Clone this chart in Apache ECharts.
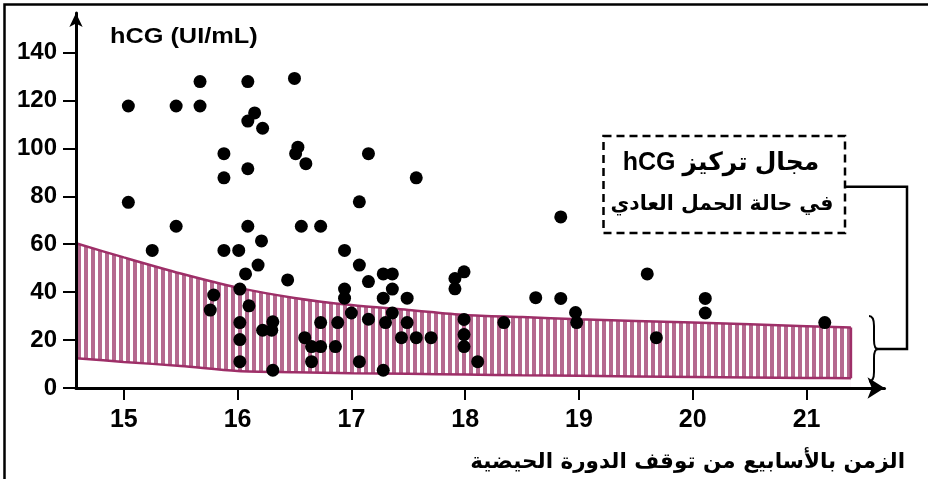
<!DOCTYPE html>
<html>
<head>
<meta charset="utf-8">
<script src="https://cdn.jsdelivr.net/npm/echarts@6/dist/echarts.min.js"></script>
<style>
html,body{margin:0;padding:0;background:#fff;}
#chart{width:928px;height:479px;}
</style>
</head>
<body>
<div id="chart"></div>
<script>
// ---- data ----
const weeks = [15.04,15.46,15.67,15.67,16.09,16.50,16.15,16.09,16.22,16.53,16.51,16.60,15.88,16.09,15.88,15.04,15.46,16.09,16.56,16.21,15.25,15.88,16.01,17.15,17.57,17.07,16.73,16.94,16.18,17.07,16.07,17.28,17.36,16.44,17.15,16.02,16.94,17.36,15.79,16.94,17.28,17.49,15.76,16.10,17.00,17.36,16.02,16.31,16.22,16.30,16.73,16.88,17.15,17.30,17.49,16.02,16.59,17.44,17.57,17.70,16.65,16.73,16.86,16.02,16.65,17.07,16.31,17.28,17.91,17.99,17.91,18.62,17.99,18.34,17.99,17.99,18.11,18.84,19.60,18.84,20.11,20.11,18.97,18.98,19.68,21.16];
const hcg = [117.7,117.7,127.9,117.7,127.9,129.2,114.8,111.4,108.4,100.5,97.8,93.6,97.8,91.5,87.7,77.5,67.5,67.5,67.5,61.4,57.4,57.4,57.4,97.8,87.7,77.7,67.5,57.4,51.3,51.3,47.6,47.6,47.6,45.1,44.4,41.3,41.3,41.3,38.8,37.5,37.5,37.5,32.5,34.3,31.3,31.3,27.3,27.6,24.1,24.1,27.3,27.3,28.7,27.3,27.3,20.2,21.0,21.0,21.0,21.0,17.3,17.3,17.3,11.0,11.0,11.0,7.4,7.4,45.7,48.5,41.4,37.7,28.6,27.3,22.3,17.3,11.0,71.4,47.6,37.4,37.4,31.3,31.5,27.3,21.0,27.3];
const bandWeeks = [14.58,15,15.5,16,16.5,17,17.5,18,18.5,19,20,21,21.39];
const bandUpper = [60.4,54.5,47.8,41.9,37.6,34.6,32.6,30.5,29.6,28.7,27.3,25.8,25.2];
const bandLower = [12.4,10.9,9.2,7.1,6.6,6.2,5.9,5.6,5.3,5.1,4.6,4.2,4.1];
const xTicks = [15,16,17,18,19,20,21];
const yTicks = [0,20,40,60,80,100,120,140];
const yTitle = 'hCG (UI/mL)';
const xTitle = 'الزمن بالأسابيع من توقف الدورة الحيضية';
const boxLine1 = '\u202Bمجال تركيز hCG\u202C';
const boxLine2 = 'في حالة الحمل العادي';

// ---- styles ----
const BORDER = '#9e2f68';
const STRIPE = '#b5698f';
const pc = document.createElement('canvas');
pc.width = 7; pc.height = 8;
const pctx = pc.getContext('2d');
pctx.fillStyle = '#ffffff'; pctx.fillRect(0,0,7,8);
pctx.fillStyle = STRIPE; pctx.fillRect(0,0,4,8);

const chart = echarts.init(document.getElementById('chart'), null, {renderer:'canvas'});
const LAT = '"Liberation Sans", Arial, "DejaVu Sans", sans-serif';
const AR = '"DejaVu Sans", "Liberation Sans", sans-serif';
const n = bandWeeks.length;
const K = {stroke:'#000', lineWidth:2, fill:null};

chart.setOption({
  animation: false,
  backgroundColor: '#fff',
  grid: {left: 76, right: 43.5, top: 13, bottom: 91},
  xAxis: {
    type: 'value', min: 14.58, max: 21.685, z: 10,
    splitLine: {show: false},
    axisLine: {show: true, onZero: true, symbol: ['none','arrow'], symbolSize: [16,17], lineStyle: {color:'#000', width: 3}},
    axisTick: {show: true, length: 12, customValues: xTicks, lineStyle: {color:'#000', width: 2}},
    axisLabel: {customValues: xTicks, margin: 20, color:'#000', fontWeight:'bold', fontSize: 25, fontFamily: LAT}
  },
  yAxis: {
    type: 'value', min: 0, max: 156.5, z: 10,
    splitLine: {show: false},
    axisLine: {show: true, symbol: ['none','arrow'], symbolSize: [10,14], lineStyle: {color:'#000', width: 3}},
    axisTick: {show: true, length: 13, customValues: yTicks, lineStyle: {color:'#000', width: 2}},
    axisLabel: {customValues: yTicks, margin: 19, color:'#000', fontWeight:'bold', fontSize: 24, fontFamily: LAT}
  },
  series: [
    {type:'line', silent:true, symbol:'none', smooth:0.3, z:1,
     data: bandWeeks.map((x,i)=>[x, bandUpper[i]]),
     lineStyle:{color:BORDER, width:2.5},
     areaStyle:{color:{image:pc, repeat:'repeat'}, opacity:1}},
    {type:'line', silent:true, symbol:'none', smooth:0.3, z:1,
     data: bandWeeks.map((x,i)=>[x, bandLower[i]]),
     lineStyle:{color:BORDER, width:2.5},
     areaStyle:{color:'#ffffff', opacity:1}},
    {type:'line', silent:true, symbol:'none', z:1,
     data: [[bandWeeks[n-1], bandLower[n-1]], [bandWeeks[n-1], bandUpper[n-1]]],
     lineStyle:{color:BORDER, width:2.5}},
    {type:'scatter', silent:true, symbol:'circle', symbolSize:13, z:3,
     data: weeks.map((x,i)=>[x, hcg[i]]),
     itemStyle:{color:'#000', opacity:1}}
  ],
  graphic: [
    {type:'polyline', z:10, shape:{points:[[4.5,479],[4.5,4.5],[928,4.5]]}, style:{stroke:'#000', lineWidth:2.5, fill:null}},
    {type:'text', z:10, x:110, y:37, scaleX:1.15, style:{text:yTitle, font:'bold 22px '+LAT, fill:'#000', textAlign:'left', textVerticalAlign:'middle'}},
    {type:'text', z:10, x:905, y:462, style:{text:xTitle, font:'bold 21.5px '+AR, fill:'#000', textAlign:'right', textVerticalAlign:'middle'}},
    {type:'rect', z:10, shape:{x:603.5, y:136, width:241.5, height:97}, style:{fill:'#fff', stroke:'#000', lineWidth:2.5, lineDash:[8,5]}},
    {type:'text', z:11, x:721, y:163, style:{text:boxLine1, font:'bold 25px '+LAT+', '+AR, fill:'#000', textAlign:'center', textVerticalAlign:'middle'}},
    {type:'text', z:11, x:722, y:205, style:{text:boxLine2, font:'bold 20.5px '+AR, fill:'#000', textAlign:'center', textVerticalAlign:'middle'}},
    {type:'polyline', z:10, shape:{points:[[845,186.7],[907,186.7],[907,349],[877,349]]}, style:{stroke:'#000', lineWidth:2.5, fill:null}},
    {type:'bezierCurve', z:10, shape:{x1:869,y1:316,cpx1:873,cpy1:316,cpx2:874,cpy2:320,x2:874,y2:326}, style:K},
    {type:'line', z:10, shape:{x1:874,y1:326,x2:874,y2:340}, style:K},
    {type:'bezierCurve', z:10, shape:{x1:874,y1:340,cpx1:874,cpy1:346,cpx2:875,cpy2:349,x2:878,y2:349}, style:K},
    {type:'bezierCurve', z:10, shape:{x1:878,y1:349,cpx1:875,cpy1:349,cpx2:874,cpy2:352,x2:874,y2:358}, style:K},
    {type:'line', z:10, shape:{x1:874,y1:358,x2:874,y2:372}, style:K},
    {type:'bezierCurve', z:10, shape:{x1:874,y1:372,cpx1:874,cpy1:378,cpx2:873,cpy2:381.5,x2:869,y2:381.5}, style:K}
  ]
});
</script>
</body>
</html>
